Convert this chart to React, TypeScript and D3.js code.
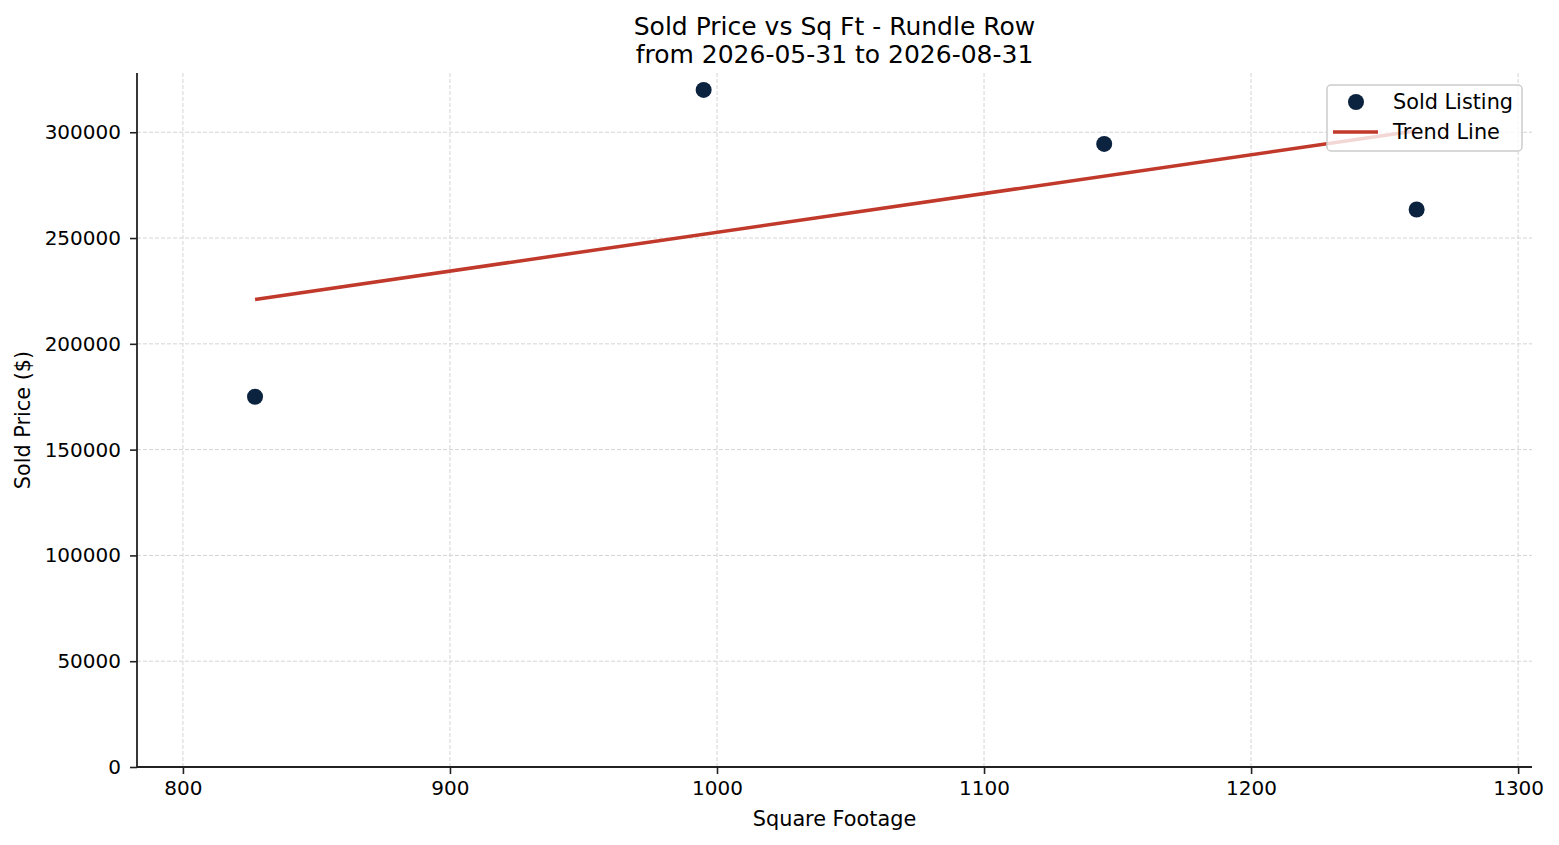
import { useEffect, useRef } from "react";
import * as d3 from "d3";

// ── Data ──
const sqft = [827, 995, 1145, 1262];
const soldPrice = [175000, 320000, 294500, 263500];
// regression line end points (sq ft, price)
const trendX = [827, 1262];
const trendY = [221000, 300700];
const xTicks = [800, 900, 1000, 1100, 1200, 1300];
const yTicks = [0, 50000, 100000, 150000, 200000, 250000, 300000];
const legendLabels = ["Sold Listing", "Trend Line"];

const W = 1559;
const H = 845;
const M = { left: 137, right: 1532, top: 73, bottom: 767 };
const FONT = "DejaVu Sans, Verdana, sans-serif";
const NAVY = "#0c2340";
const RED = "#c0392b";

export default function App() {
  const svgRef = useRef<SVGSVGElement>(null);

  useEffect(() => {
    if (!svgRef.current) return;
    const svg = d3.select(svgRef.current);
    svg.selectAll("*").remove();

    const x = d3.scaleLinear().domain([782.8, 1305.2]).range([M.left, M.right]);
    const y = d3.scaleLinear().domain([0, 328000]).range([M.bottom, M.top]);

    // ── Grid ──
    const grid = svg.append("g");
    grid
      .selectAll("line.vx")
      .data(xTicks)
      .join("line")
      .attr("x1", (d) => x(d))
      .attr("x2", (d) => x(d))
      .attr("y1", M.top)
      .attr("y2", M.bottom)
      .attr("stroke", "#d4d4d4")
      .attr("stroke-width", 1)
      .attr("stroke-dasharray", "4,2");
    grid
      .selectAll("line.hy")
      .data(yTicks)
      .join("line")
      .attr("x1", M.left)
      .attr("x2", M.right)
      .attr("y1", (d) => y(d))
      .attr("y2", (d) => y(d))
      .attr("stroke", "#d4d4d4")
      .attr("stroke-width", 1)
      .attr("stroke-dasharray", "4,2");

    // ── Scatter ──
    svg
      .append("g")
      .selectAll("circle")
      .data(sqft)
      .join("circle")
      .attr("cx", (d) => x(d))
      .attr("cy", (_, i) => y(soldPrice[i]))
      .attr("r", 8)
      .attr("fill", NAVY);

    // ── Trend line ──
    const line = d3
      .line<number>()
      .x((d) => x(d))
      .y((_, i) => y(trendY[i]));
    svg
      .append("path")
      .datum(trendX)
      .attr("d", line)
      .attr("fill", "none")
      .attr("stroke", RED)
      .attr("stroke-width", 3.5);

    // ── Axes ──
    const xAxis = svg
      .append("g")
      .attr("transform", `translate(0,${M.bottom})`)
      .call(
        d3
          .axisBottom(x)
          .tickValues(xTicks)
          .tickFormat(d3.format("d"))
          .tickSize(7)
          .tickPadding(7)
          .tickSizeOuter(0)
      );
    const yAxis = svg
      .append("g")
      .attr("transform", `translate(${M.left},0)`)
      .call(
        d3
          .axisLeft(y)
          .tickValues(yTicks)
          .tickFormat(d3.format("d"))
          .tickSize(7)
          .tickPadding(9)
          .tickSizeOuter(0)
      );
    [xAxis, yAxis].forEach((g) => {
      g.select(".domain").attr("stroke", "#222").attr("stroke-width", 1.8);
      g.selectAll(".tick line").attr("stroke", "#222").attr("stroke-width", 1.6);
      g.selectAll(".tick text")
        .attr("font-family", FONT)
        .attr("font-size", 20)
        .attr("fill", "#000");
    });
    // spine lines span the full axes box
    xAxis.select(".domain").attr("d", `M${M.left},0H${M.right}`);
    yAxis.select(".domain").attr("d", `M0,${M.bottom}V${M.top}`);

    // ── Titles ──
    const cx = (M.left + M.right) / 2;
    const title = svg
      .append("text")
      .attr("text-anchor", "middle")
      .attr("font-family", FONT)
      .attr("font-size", 25)
      .attr("fill", "#000");
    title.append("tspan").attr("x", cx).attr("y", 35).text("Sold Price vs Sq Ft - Rundle Row");
    title.append("tspan").attr("x", cx).attr("y", 63).text("from 2026-05-31 to 2026-08-31");

    svg
      .append("text")
      .attr("x", cx)
      .attr("y", 826)
      .attr("text-anchor", "middle")
      .attr("font-family", FONT)
      .attr("font-size", 20.8)
      .text("Square Footage");

    svg
      .append("text")
      .attr("transform", `translate(30,${(M.top + M.bottom) / 2}) rotate(-90)`)
      .attr("text-anchor", "middle")
      .attr("font-family", FONT)
      .attr("font-size", 20.8)
      .text("Sold Price ($)");

    // ── Legend ──
    const lg = svg.append("g").attr("transform", "translate(1327,85)");
    lg.append("rect")
      .attr("width", 195)
      .attr("height", 66)
      .attr("rx", 4)
      .attr("fill", "#fff")
      .attr("fill-opacity", 0.8)
      .attr("stroke", "#cccccc")
      .attr("stroke-width", 1.5);
    lg.append("circle").attr("cx", 29).attr("cy", 17).attr("r", 8).attr("fill", NAVY);
    lg.append("line")
      .attr("x1", 6)
      .attr("x2", 51)
      .attr("y1", 47)
      .attr("y2", 47)
      .attr("stroke", RED)
      .attr("stroke-width", 3.5);
    lg.selectAll("text.lbl")
      .data(legendLabels)
      .join("text")
      .attr("x", 66)
      .attr("y", (_, i) => 24 + i * 30)
      .attr("font-family", FONT)
      .attr("font-size", 20.8)
      .attr("fill", "#000")
      .text((d) => d);
  }, []);

  return (
    <svg
      ref={svgRef}
      width={W}
      height={H}
      style={{ position: "absolute", left: 0, top: 0, background: "#fff" }}
    />
  );
}
